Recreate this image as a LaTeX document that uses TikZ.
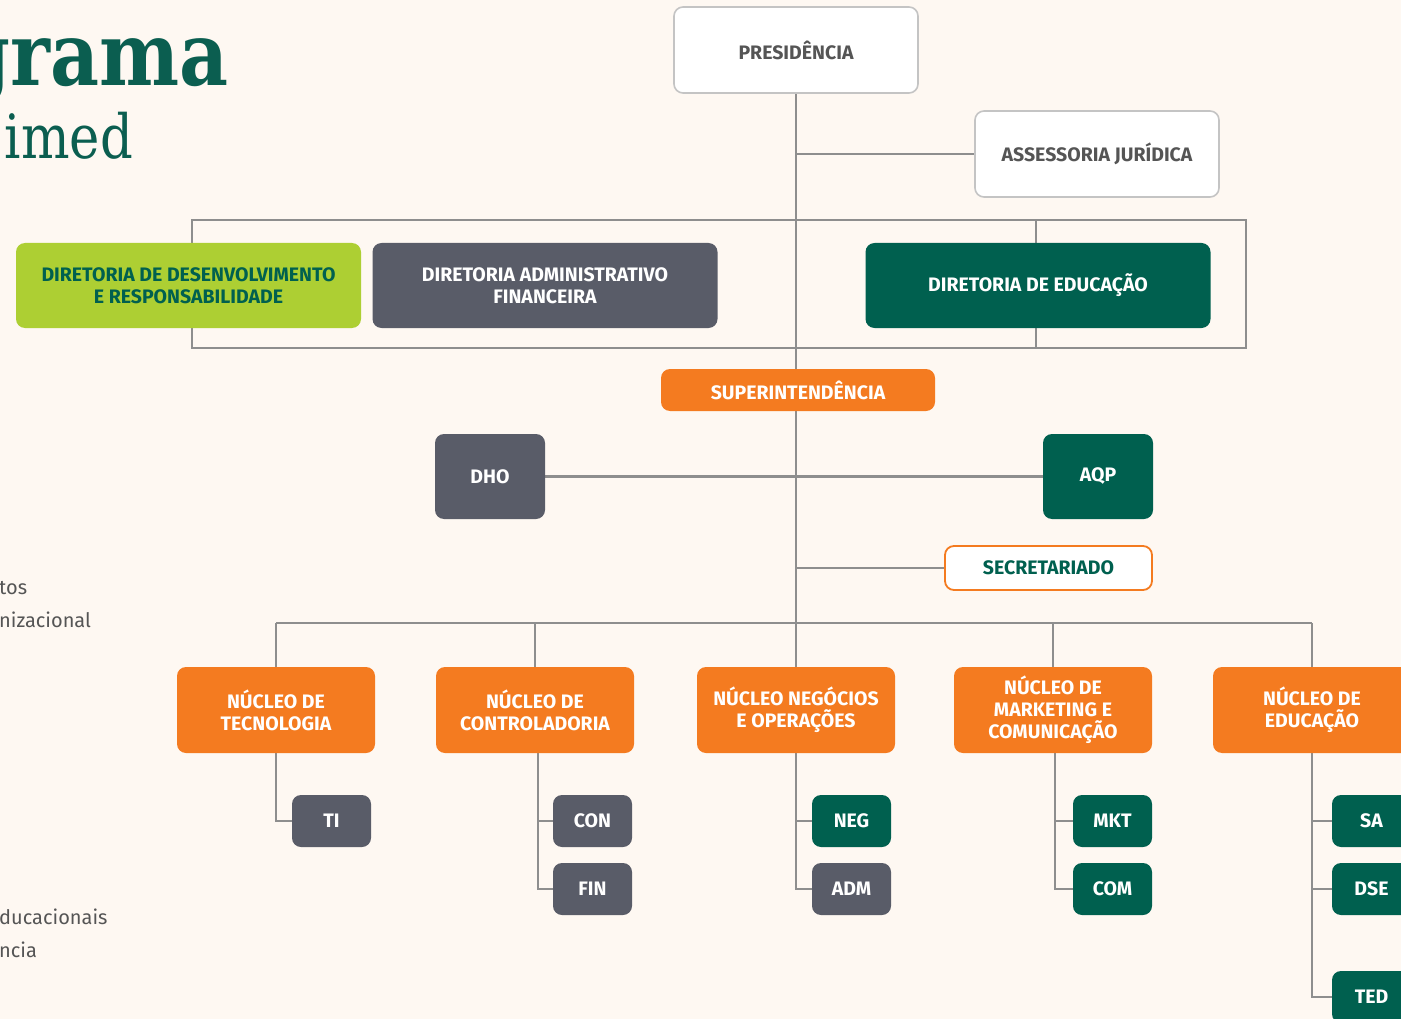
\documentclass[tikz,border=0pt]{standalone}
\usepackage{fontspec}
\setmainfont{Fira Sans}
\newfontfamily\titlefont{DejaVu Serif}
\usetikzlibrary{backgrounds}
\definecolor{bg}{HTML}{FEF8F2}
\definecolor{ugreen}{HTML}{00604F}
\definecolor{tgreen}{HTML}{0B5E50}
\definecolor{uorange}{HTML}{F47B20}
\definecolor{ugrey}{HTML}{595C68}
\definecolor{ulime}{HTML}{ADCF33}
\definecolor{uline}{HTML}{8E8E8E}
\definecolor{wborder}{HTML}{C4C4C4}
\definecolor{wtext}{HTML}{555555}
\begin{document}
\begin{tikzpicture}[x=1pt,y=-1pt,
  box/.style={rounded corners=9pt, inner sep=0pt, align=center,
    font=\fontsize{19.5}{22}\selectfont\bfseries, text=white},
  wbox/.style={box, fill=white, draw=wborder, line width=1.6pt, text=wtext,
    minimum width=244pt, minimum height=86pt},
  dirbox/.style={box, minimum width=345pt, minimum height=85pt},
  nucbox/.style={box, fill=uorange, minimum width=198pt, minimum height=86pt},
  subbox/.style={box, minimum width=79pt, minimum height=52pt},
  conn/.style={draw=uline, line width=2.6pt},
  sidetext/.style={anchor=base west, inner sep=0pt, text=wtext,
    font=\fontsize{20}{24}\selectfont}]
\clip (0,0) rectangle (1401,1019);
\begin{scope}[on background layer]
\fill[bg] (0,0) rectangle (1401,1019);
\end{scope}

% title fragments
\node[anchor=base east, inner sep=0pt, text=tgreen,
  font=\fontsize{88}{96}\selectfont\titlefont\bfseries] (title1) at (229,86)
  {\scalebox{0.86}[1]{grama}};
\node[anchor=base east, inner sep=0pt, text=tgreen,
  font=\fontsize{61}{68}\selectfont\titlefont] (title2) at (133,159)
  {\scalebox{0.84}[1]{imed}};

% side text fragments
\node[sidetext] (s1) at (-1,594) {tos};
\node[sidetext] (s2) at (-1,627) {nizacional};
\node[sidetext] (s3) at (-1,924) {ducacionais};
\node[sidetext] (s4) at (-1,957) {ncia};

% top
\node[wbox] (pres) at (796,50) {PRESIDÊNCIA};
\node[wbox] (jur) at (1097,154) {ASSESSORIA JURÍDICA};

% directorates
\node[dirbox, fill=ulime, text=ugreen] (ddr) at (188.5,285.5)
  {DIRETORIA DE DESENVOLVIMENTO\\E RESPONSABILIDADE};
\node[dirbox, fill=ugrey] (daf) at (545,285.5)
  {DIRETORIA ADMINISTRATIVO\\FINANCEIRA};
\node[dirbox, fill=ugreen] (ded) at (1038,285.5) {DIRETORIA DE EDUCAÇÃO};
\coordinate (fa) at (192,220);
\coordinate (fb) at (1246,348);

% superintendence
\node[box, fill=uorange, minimum width=274pt, minimum height=42pt] (sup) at (798,390)
  {SUPERINTENDÊNCIA};
\node[box, fill=ugrey, minimum width=110pt, minimum height=85pt] (dho) at (490,476.5) {DHO};
\node[box, fill=ugreen, minimum width=110pt, minimum height=85pt] (aqp) at (1098,476.5) {AQP};
\node[box, fill=white, draw=uorange, line width=1.8pt, text=ugreen,
  minimum width=207pt, minimum height=44pt] (sec) at (1048.5,568) {SECRETARIADO};

% nucleos
\node[nucbox] (ntec) at (276,710) {NÚCLEO DE\\TECNOLOGIA};
\node[nucbox] (ncon) at (535,710) {NÚCLEO DE\\CONTROLADORIA};
\node[nucbox] (nneg) at (796,710) {NÚCLEO NEGÓCIOS\\E OPERAÇÕES};
\node[nucbox] (nmkt) at (1053,710) {NÚCLEO DE\\MARKETING E\\COMUNICAÇÃO};
\node[nucbox] (nedu) at (1312,710) {NÚCLEO DE\\EDUCAÇÃO};
\coordinate (bus) at (797,623);

% sub units
\node[subbox, fill=ugrey] (ti) at (331.5,821) {TI};
\node[subbox, fill=ugrey] (con) at (592.5,821) {CON};
\node[subbox, fill=ugrey] (fin) at (592.5,889) {FIN};
\node[subbox, fill=ugreen] (neg) at (851.5,821) {NEG};
\node[subbox, fill=ugrey] (adm) at (851.5,889) {ADM};
\node[subbox, fill=ugreen] (mkt) at (1112.5,821) {MKT};
\node[subbox, fill=ugreen] (com) at (1112.5,889) {COM};
\node[subbox, fill=ugreen] (sa) at (1371.5,821) {SA};
\node[subbox, fill=ugreen] (dse) at (1371.5,889) {DSE};
\node[subbox, fill=ugreen] (ted) at (1371.5,997) {TED};

% connectors
\begin{scope}[on background layer]
\draw[conn] (pres.south) -- (nneg.north);
\draw[conn] (pres.south |- jur.west) -- (jur.west);
\draw[conn] (fa) rectangle (fb);
\draw[conn] ([xshift=-2pt]ded.center |- fa) -- ([xshift=-2pt]ded.center |- fb);
\draw[conn] (dho.east) -- (aqp.west);
\draw[conn] (pres.south |- sec.west) -- (sec.west);
\draw[conn] (ntec.north |- bus) -- (nedu.north |- bus);
\foreach \n in {ntec,ncon,nmkt,nedu} \draw[conn] (\n.north) -- (\n.north |- bus);
\draw[conn] (ntec.south) |- (ti.west);
\draw[conn] ([xshift=3pt]ncon.south) |- (con.west);
\draw[conn] ([xshift=3pt]ncon.south) |- (fin.west);
\draw[conn] (nneg.south) |- (neg.west);
\draw[conn] (nneg.south) |- (adm.west);
\draw[conn] ([xshift=2pt]nmkt.south) |- (mkt.west);
\draw[conn] ([xshift=2pt]nmkt.south) |- (com.west);
\draw[conn] (nedu.south) |- (sa.west);
\draw[conn] (nedu.south) |- (dse.west);
\draw[conn] (nedu.south) |- (ted.west);
\end{scope}
\end{tikzpicture}
\end{document}
